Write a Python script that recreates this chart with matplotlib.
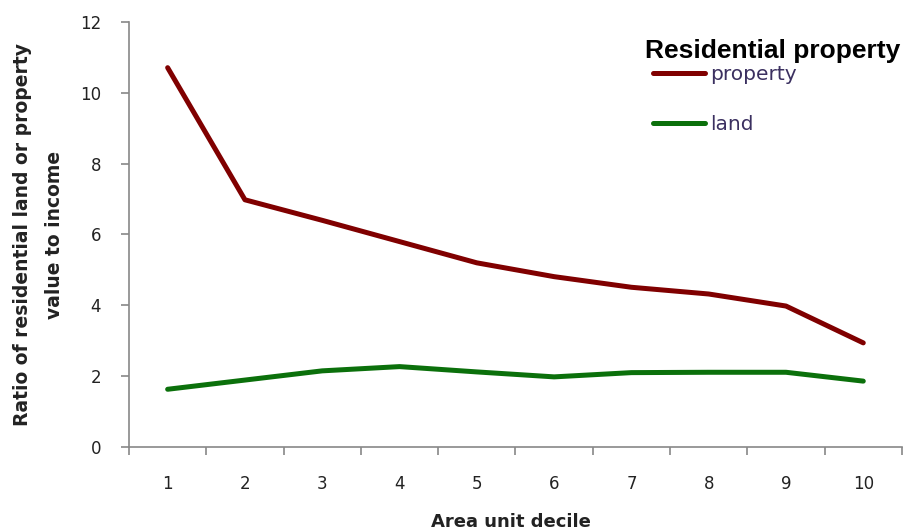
import numpy as np
import matplotlib
matplotlib.use('Agg')
import matplotlib.pyplot as plt

deciles = [1, 2, 3, 4, 5, 6, 7, 8, 9, 10]
property_ratio = [10.71, 6.98, 6.40, 5.80, 5.20, 4.81, 4.51, 4.32, 3.98, 2.94]
land_ratio = [1.63, 1.89, 2.15, 2.27, 2.12, 1.98, 2.10, 2.11, 2.11, 1.86]

plt.rcParams['font.family'] = ['DejaVu Sans']

fig = plt.figure(figsize=(9.04, 5.30), dpi=100)
ax = fig.add_axes([0.1427, 0.1566, 0.855, 0.8019])

ax.plot(deciles, property_ratio, color='#800000', lw=3.6, label='property',
        solid_capstyle='round', solid_joinstyle='round')
ax.plot(deciles, land_ratio, color='#0b700b', lw=3.6, label='land',
        solid_capstyle='round', solid_joinstyle='round')

ax.set_xlim(0.5, 10.5)
ax.set_ylim(0, 12)
ax.set_yticks(range(0, 13, 2))
ax.set_xticks(deciles)
ax.set_xticks(np.arange(0.5, 11, 1), minor=True)
ax.tick_params(axis='x', which='major', length=0, pad=20, labelsize=12, labelcolor='#222222')
ax.tick_params(axis='x', which='minor', length=6, color='#888888', width=1.2)
ax.tick_params(axis='y', length=6, color='#888888', width=1.2, pad=14,
               labelsize=12, labelcolor='#222222')

for s in ['top', 'right']:
    ax.spines[s].set_visible(False)
for s in ['left', 'bottom']:
    ax.spines[s].set_color('#888888')
    ax.spines[s].set_linewidth(1.2)

ax.set_ylabel('Ratio of residential land or property\nvalue to income', fontsize=13.5,
              fontweight='bold', color='#222222', linespacing=1.85)
ax.yaxis.set_label_coords(-0.084, 0.5)
ax.set_xlabel('Area unit decile', fontsize=13, fontweight='bold', color='#222222')
ax.xaxis.set_label_coords(0.494, -0.155)

fig.text(645 / 904, 1 - 51 / 530, 'Residential property', family='Liberation Sans',
         fontweight='bold', fontsize=19, va='center', ha='left', color='black')
leg = ax.legend(loc='upper left', bbox_to_anchor=(653 / 904, 1 - 65 / 530),
                bbox_transform=fig.transFigure,
                frameon=False, handlelength=2.6, handletextpad=0.25, labelspacing=1.55,
                fontsize=14.5, borderaxespad=0, borderpad=0)
for t in leg.get_texts():
    t.set_color('#3b3060')

fig.savefig('out.png', dpi=100)
